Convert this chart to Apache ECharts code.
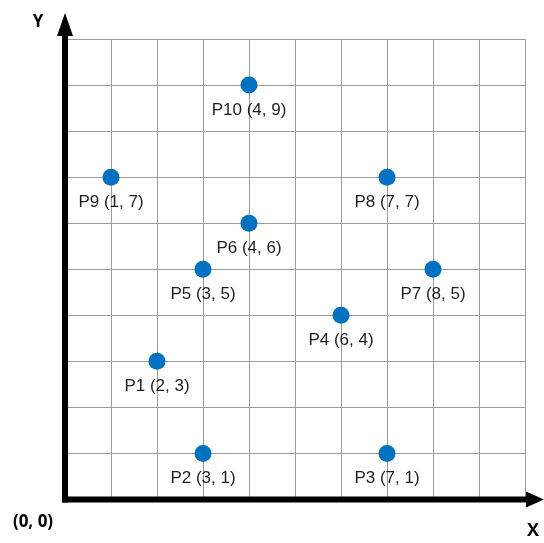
<!DOCTYPE html>
<html>
<head>
<meta charset="utf-8">
<script src="https://cdn.jsdelivr.net/npm/echarts@6/dist/echarts.min.js"></script>
<style>
html,body{margin:0;padding:0;background:#fff;}
#chart{width:544px;height:543px;}
</style>
</head>
<body>
<div id="chart"></div>
<script>
// Point names and coordinates
const pointNames = ['P1', 'P2', 'P3', 'P4', 'P5', 'P6', 'P7', 'P8', 'P9', 'P10'];
const xValues = [2, 3, 7, 6, 3, 4, 8, 7, 1, 4];
const yValues = [3, 1, 1, 4, 5, 6, 5, 7, 7, 9];
// Grid extent
const axisMax = 10;

const chart = echarts.init(document.getElementById('chart'));

const points = pointNames.map((n, i) => ({
  name: n,
  value: [xValues[i], yValues[i]]
}));

const gridLine = { show: true, lineStyle: { color: '#9c9c9c', width: 1 } };

chart.setOption({
  animation: false,
  backgroundColor: '#ffffff',
  grid: { left: 65, right: 19, top: 39, bottom: 43.5 },
  xAxis: {
    type: 'value', min: 0, max: axisMax, interval: 1,
    axisLine: { show: false }, axisTick: { show: false }, axisLabel: { show: false },
    splitLine: gridLine
  },
  yAxis: {
    type: 'value', min: 0, max: axisMax, interval: 1,
    axisLine: { show: false }, axisTick: { show: false }, axisLabel: { show: false },
    splitLine: gridLine
  },
  series: [{
    type: 'scatter',
    data: points,
    symbolSize: 17,
    itemStyle: { color: '#0070c0', opacity: 1 },
    label: {
      show: true,
      position: 'bottom',
      distance: 8,
      color: '#1e1e1e',
      fontFamily: 'Liberation Sans',
      fontSize: 17,
      formatter: p => `${p.name} (${p.value[0]}, ${p.value[1]})`
    },
    z: 5
  }]
});

// Axis lines with arrowheads, placed from the axis scales
const origin = chart.convertToPixel({ gridIndex: 0 }, [0, 0]);
const xEnd = chart.convertToPixel({ gridIndex: 0 }, [axisMax, 0]);
const yEnd = chart.convertToPixel({ gridIndex: 0 }, [0, axisMax]);
const ox = origin[0], oy = origin[1];
const xTip = xEnd[0] + 19, yTip = yEnd[1] - 26;

chart.setOption({
  graphic: [
    { type: 'line', z: 10, shape: { x1: ox, y1: oy + 3, x2: ox, y2: yTip + 20 },
      style: { stroke: '#000', lineWidth: 6 } },
    { type: 'polygon', z: 10, shape: { points: [[ox, yTip], [ox - 8, yTip + 23], [ox + 8, yTip + 23]] },
      style: { fill: '#000' } },
    { type: 'line', z: 10, shape: { x1: ox - 3, y1: oy, x2: xTip - 15, y2: oy },
      style: { stroke: '#000', lineWidth: 6 } },
    { type: 'polygon', z: 10, shape: { points: [[xTip, oy], [xTip - 18, oy - 8], [xTip - 18, oy + 8]] },
      style: { fill: '#000' } },
    { type: 'text', z: 10, style: { text: 'Y', x: ox - 27, y: yTip + 9, fill: '#000',
      font: 'bold 17px "Open Sans"', textAlign: 'center', textVerticalAlign: 'middle' } },
    { type: 'text', z: 10, style: { text: 'X', x: xTip - 11, y: oy + 31, fill: '#000',
      font: 'bold 18px "Open Sans"', textAlign: 'center', textVerticalAlign: 'middle' } },
    { type: 'text', z: 10, style: { text: '(0, 0)', x: ox - 32, y: oy + 23, fill: '#000',
      font: 'bold 17px "Open Sans"', textAlign: 'center', textVerticalAlign: 'middle' } }
  ]
});
</script>
</body>
</html>
